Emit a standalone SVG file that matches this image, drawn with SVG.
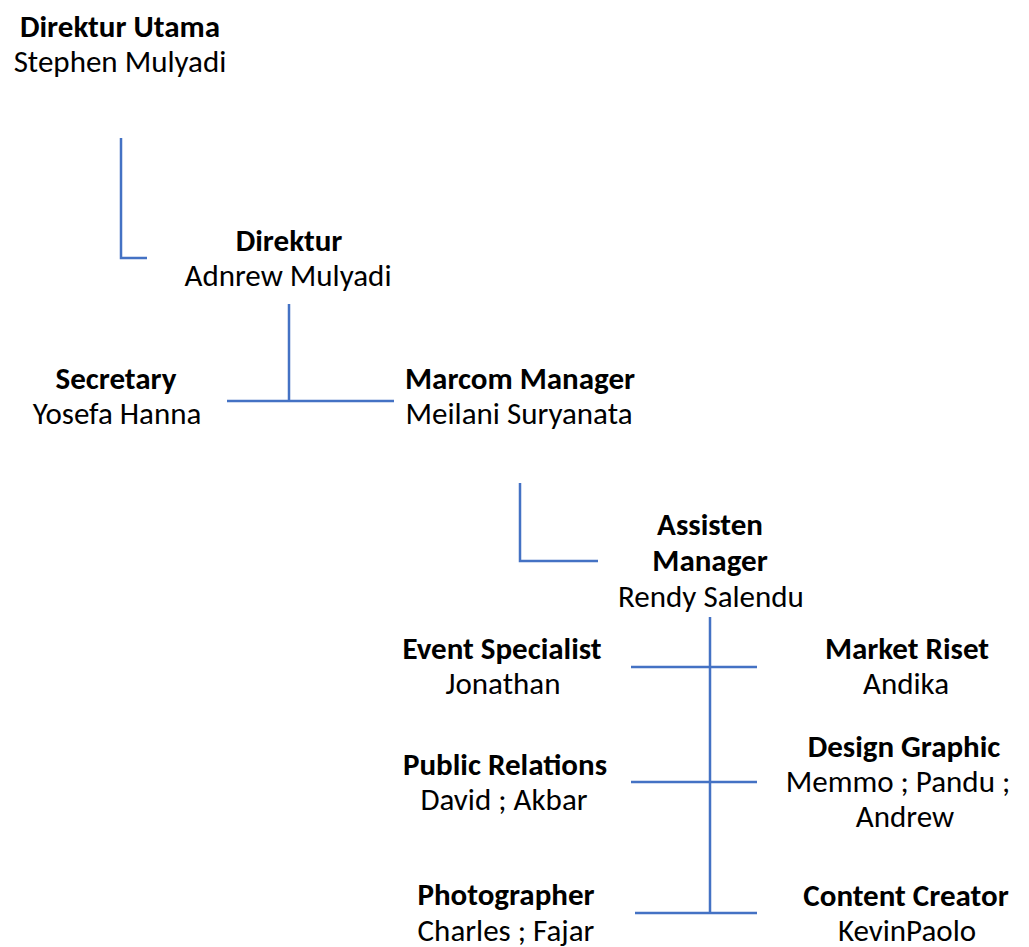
<svg xmlns="http://www.w3.org/2000/svg" width="1029" height="947" viewBox="0 0 1029 947">
<style>
text{font-family:Carlito,Lato,"Liberation Sans",sans-serif;font-size:31px;fill:#000;text-anchor:middle}
.b{font-weight:bold}
.c{fill:none;stroke:#4472C4;stroke-width:2.5}
</style>
<rect width="1029" height="947" fill="#fff"/>
<g id="connectors">
<path class="c" d="M121 138V258H147"/>
<path class="c" d="M289 304V401M227 401H394"/>
<path class="c" d="M520 483V561H598"/>
<path class="c" d="M710 617V913M631 667H757M631 782H757M635 913H757"/>
</g>
<g id="direktur-utama"><text class="b" x="120" y="37">Direktur Utama</text><text x="120" y="72">Stephen Mulyadi</text></g>
<g id="direktur"><text class="b" x="289" y="251">Direktur</text><text x="288" y="286">Adnrew Mulyadi</text></g>
<g id="secretary"><text class="b" x="116" y="389">Secretary</text><text x="117" y="424">Yosefa Hanna</text></g>
<g id="marcom-manager"><text class="b" x="520" y="389">Marcom Manager</text><text x="519" y="424">Meilani Suryanata</text></g>
<g id="assisten-manager"><text class="b" x="710" y="535">Assisten</text><text class="b" x="710" y="571">Manager</text><text x="711" y="607">Rendy Salendu</text></g>
<g id="event-specialist"><text class="b" x="502" y="659">Event Specialist</text><text x="503" y="694">Jonathan</text></g>
<g id="market-riset"><text class="b" x="907" y="659">Market Riset</text><text x="906" y="694">Andika</text></g>
<g id="public-relations"><text class="b" x="505" y="775">Public Relations</text><text x="504" y="810">David ; Akbar</text></g>
<g id="design-graphic"><text class="b" x="904" y="757">Design Graphic</text><text x="898" y="792">Memmo ; Pandu ;</text><text x="905" y="827">Andrew</text></g>
<g id="photographer"><text class="b" x="506" y="905">Photographer</text><text x="506" y="941">Charles ; Fajar</text></g>
<g id="content-creator"><text class="b" x="906" y="906">Content Creator</text><text x="907" y="941">KevinPaolo</text></g>
</svg>
